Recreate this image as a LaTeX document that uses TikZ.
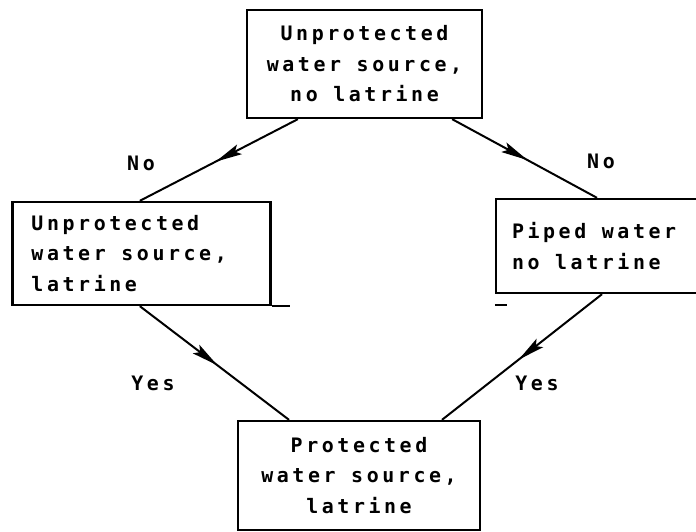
\documentclass[tikz,border=0pt]{standalone}
\usepackage{fontspec}
\newfontfamily\plotfont[LetterSpace=18]{DejaVu Sans Mono}
\usetikzlibrary{positioning}
\usetikzlibrary{arrows.meta}
\usetikzlibrary{decorations.markings}

\begin{document}
\begin{tikzpicture}[
                x=0.03cm, y=-0.03cm,
                plotbox/.style={rectangle, draw, line width=2pt, font=\plotfont\bfseries\fontsize{17}{26}\selectfont},
                centerbox/.style={plotbox, align=center},
                leftbox/.style={plotbox, align=flush left},
                answer/.style={font=\plotfont\bfseries\fontsize{17}{18}\selectfont, inner sep=1pt},
                flow/.style={line width=1.7pt, postaction={decorate},
                    decoration={markings, mark=at position 0.52 with {\arrow{Stealth[length=8mm, width=3.2mm, inset=1.5mm]}}}},
            ]
            \useasboundingbox (0,0) rectangle (696,532);
            \clip (0,0) rectangle (696,532);

            % Nodes
            \node[centerbox, minimum width=7.05cm, minimum height=3.24cm]   (no_latrine)     at (364.5,64)
                {Unprotected\\water source,\\no latrine};
            \node[leftbox, inner xsep=0.57cm, text width=6.6cm, minimum height=3.09cm]   (latrine_only)   at (141.5,253.5)
                {Unprotected\\water source,\\latrine};
            \node[leftbox, inner xsep=0.48cm, text width=5.4cm, minimum height=2.82cm]   (piped_only)     at (602,246)
                {Piped water\\no latrine};
            \node[centerbox, minimum width=7.26cm, minimum height=3.27cm]   (protected)      at (359,475.5)
                {Protected\\water source,\\latrine};

            \node[answer]   (no_left)    at (141,163)   {No};
            \node[answer]   (no_right)   at (601,161)   {No};
            \node[answer]   (yes_left)   at (153,383)   {Yes};
            \node[answer]   (yes_right)  at (537,383)   {Yes};

            %Lines
            \draw[flow] ([xshift=-2.0cm]no_latrine.south) -- ([xshift=-0.05cm]latrine_only.north);
            \draw[flow] ([xshift=2.63cm]no_latrine.south) -- ([xshift=-0.15cm]piped_only.north);
            \draw[flow] ([xshift=-0.05cm]latrine_only.south) -- ([xshift=-2.1cm]protected.north);
            \draw[flow] (piped_only.south) -- ([xshift=2.49cm]protected.north);

            \draw[line width=2pt] (latrine_only.south east) -- ++(18,0);
            \draw[line width=2pt] ([yshift=-0.33cm]piped_only.south west) -- ++(12,0);
        \end{tikzpicture}
\end{document}
